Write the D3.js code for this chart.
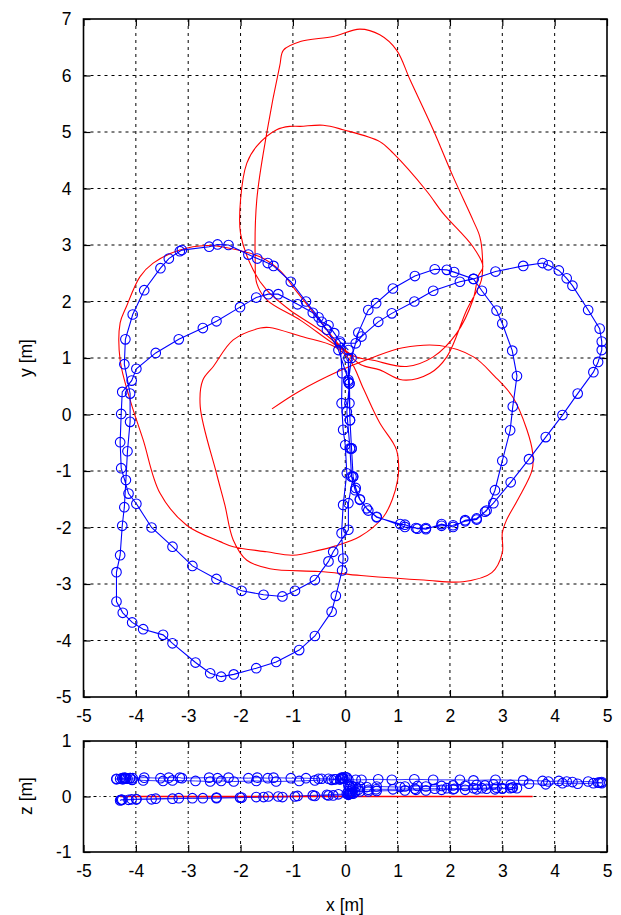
<!DOCTYPE html>
<html><head><meta charset="utf-8">
<script src="https://cdn.jsdelivr.net/npm/d3@7"></script>
<style>
html,body{margin:0;padding:0;background:#fff;}
svg{display:block;font-family:"Liberation Sans",Arial,sans-serif;}
</style></head>
<body>
<svg id="chart" width="621" height="915"></svg>
<script>
// ---------------- data ----------------
const xTicks = [-5,-4,-3,-2,-1,0,1,2,3,4,5];
const yTicks = [-5,-4,-3,-2,-1,0,1,2,3,4,5,6,7];
const zTicks = [-1,0,1];

// reference (ground truth) path, x-y in metres
const refPath = [
[-1.40,0.10],[-0.90,0.40],[-0.14,0.76],[0.50,1.00],[1.10,1.18],[1.80,1.22],[2.45,1.02],[2.85,0.68],[3.20,0.31],
[3.47,-0.27],[3.58,-0.68],[3.57,-0.98],[3.30,-1.50],[3.08,-1.87],[3.00,-2.10],[3.00,-2.45],[2.80,-2.80],[2.25,-2.96],
[1.50,-2.93],[0.30,-2.85],[-0.50,-2.78],[-1.44,-2.73],[-1.88,-2.58],[-2.14,-2.22],[-2.30,-1.60],[-2.46,-1.04],
[-2.77,0.14],[-2.72,0.61],[-2.52,0.85],[-2.14,1.32],[-1.62,1.53],[-1.45,1.54],[-0.83,1.38],[-0.20,1.20],[0.10,0.95],
[0.35,0.45],[0.66,-0.15],[0.90,-0.48],[0.98,-0.63],[1.02,-0.90],[1.00,-1.16],[0.90,-1.50],[0.73,-1.81],[0.28,-2.16],
[-0.20,-2.33],[-0.49,-2.40],[-1.00,-2.49],[-1.50,-2.43],[-2.14,-2.34],[-2.39,-2.25],[-3.03,-1.96],[-3.54,-1.39],
[-3.86,-0.45],[-4.11,0.26],[-4.30,0.96],[-4.30,1.62],[-4.18,1.91],[-3.92,2.44],[-3.67,2.68],[-3.16,2.91],[-2.65,2.99],
[-2.26,2.95],[-1.63,2.79],[-1.25,2.55],[-0.95,2.20],[-0.50,1.68],[-0.10,1.22],[0.20,1.02],[0.53,0.96],[1.17,0.85],
[1.68,1.02],[2.13,1.44],[2.44,2.03],[2.54,2.45],[2.63,2.62],[2.44,2.97],[1.87,3.56],[1.55,3.96],[0.92,4.62],[0.66,4.83],
[-0.04,5.04],[-0.42,5.12],[-0.86,5.10],[-1.06,5.10],[-1.31,5.04],[-1.69,4.75],[-1.88,4.45],[-2.00,3.80],[-2.00,3.20],
[-1.76,2.56],[-1.50,2.20],[-1.06,1.85],[-0.49,1.50],[0.00,1.12],[0.30,0.88],[0.66,0.79],[1.10,0.61],[1.62,0.73],
[1.94,1.02],[2.32,1.85],[2.60,2.38],[2.62,2.80],[2.57,3.15],[2.44,3.44],[2.06,4.21],[1.68,5.04],[1.24,5.92],[0.98,6.45],
[0.66,6.72],[0.28,6.82],[-0.23,6.69],[-0.86,6.60],[-1.18,6.45],[-1.25,6.18],[-1.50,4.98],[-1.69,3.80],[-1.72,2.72],
[-1.69,2.32],[-1.50,2.03],[-0.86,1.67],[-0.30,1.30],[0.15,1.02]
];

// estimated trajectory, [x, y, z] in metres, one loop per array
const loopA = [
[0.06,1.14,0.30],[-0.10,1.29,0.31],[-0.21,1.44,0.31],[-0.32,1.58,0.32],[-0.45,1.64,0.32],[-0.51,1.72,0.32],
[-0.75,2.00,0.33],[-1.04,2.35,0.33],[-1.37,2.63,0.34],[-1.48,2.68,0.33],[-1.68,2.76,0.34],[-1.85,2.83,0.33],
[-2.23,3.00,0.34],[-2.44,3.01,0.33],[-2.60,2.97,0.34],[-3.12,2.91,0.33],[-3.16,2.89,0.34],[-3.37,2.76,0.34],
[-3.53,2.59,0.33],[-3.84,2.20,0.34],[-4.06,1.77,0.33],[-4.20,1.33,0.33],[-4.22,0.89,0.34],[-4.11,0.37,0.33],
[-4.11,-0.13,0.33],[-4.16,-0.65,0.32],[-4.19,-1.16,0.33],[-4.22,-1.64,0.32],[-4.26,-1.97,0.33],[-4.30,-2.49,0.32],
[-4.37,-2.79,0.32],[-4.37,-3.31,0.31],[-4.25,-3.51,0.31],[-4.07,-3.68,0.30],[-3.86,-3.80,0.29],[-3.48,-3.90,0.28],
[-3.30,-4.05,0.29],[-2.86,-4.39,0.28],[-2.58,-4.58,0.27],[-2.37,-4.64,0.28],[-2.13,-4.60,0.27],[-1.70,-4.49,0.28],
[-1.32,-4.38,0.27],[-0.88,-4.17,0.28],[-0.58,-3.92,0.29],[-0.26,-3.49,0.30],[-0.18,-3.21,0.31],[-0.06,-2.76,0.32],
[-0.04,-2.55,0.33],[-0.07,-2.10,0.34],[-0.04,-1.60,0.33],[0.03,-1.04,0.34],[0.00,-0.54,0.35],[-0.04,-0.27,0.34],
[-0.07,0.20,0.33],[-0.06,0.73,0.32],[-0.10,1.26,0.31]
];
const loopD = [
[0.20,1.26,0.30],[0.31,1.38,0.30],[0.63,1.64,0.31],[0.89,1.79,0.30],[1.32,2.00,0.31],[1.68,2.19,0.30],
[2.19,2.35,0.30],[2.45,2.40,0.29],[2.87,2.53,0.30],[3.40,2.63,0.29],[3.77,2.68,0.28],[3.88,2.64,0.27],
[4.08,2.55,0.28],[4.23,2.41,0.27],[4.34,2.28,0.26],[4.64,1.85,0.27],[4.86,1.52,0.25],[4.90,1.29,0.26],
[4.90,1.14,0.24],[4.83,0.93,0.25],[4.74,0.75,0.24],[4.44,0.37,0.23],[4.15,-0.01,0.24],[3.83,-0.40,0.22],
[3.51,-0.79,0.23],[3.16,-1.20,0.21],[2.83,-1.57,0.22],[2.67,-1.72,0.20],[2.51,-1.86,0.21],[2.29,-1.89,0.19],
[2.06,-1.96,0.20],[1.84,-1.97,0.19],[1.54,-2.01,0.18],[1.38,-2.02,0.19],[1.14,-1.95,0.18],[1.05,-1.94,0.17],
[0.60,-1.82,0.18],[0.41,-1.66,0.17],[0.28,-1.50,0.18],[0.20,-1.30,0.17],[0.15,-1.10,0.18],[0.12,-0.60,0.19],
[0.09,-0.10,0.18],[0.08,0.55,0.18],[0.06,1.00,0.20]
];
const loopB = [
[0.06,0.61,0.04],[-0.13,1.14,0.04],[-0.35,1.50,0.03],[-0.62,1.80,0.02],[-0.91,1.95,0.01],[-1.28,2.13,0.00],
[-1.47,2.13,0.00],[-1.70,2.07,-0.01],[-2.01,1.90,-0.02],[-2.46,1.65,-0.02],[-2.72,1.53,-0.03],[-3.18,1.33,-0.03],
[-3.62,1.09,-0.04],[-3.99,0.81,-0.05],[-4.08,0.60,-0.05],[-4.26,0.40,-0.06],[-4.28,0.01,-0.06],[-4.30,-0.49,-0.07],
[-4.28,-0.95,-0.06],[-4.14,-1.40,-0.06],[-3.99,-1.58,-0.05],[-3.70,-2.00,-0.05],[-3.30,-2.34,-0.04],[-2.92,-2.68,-0.03],
[-2.46,-2.91,-0.03],[-1.98,-3.12,-0.02],[-1.56,-3.19,-0.01],[-1.20,-3.22,-0.01],[-0.96,-3.12,0.00],[-0.58,-2.93,0.01],
[-0.32,-2.60,0.02],[-0.23,-2.43,0.02],[0.06,-2.04,0.03],[0.06,-1.57,0.04],[0.15,-1.10,0.05],[0.12,-0.60,0.05],
[0.09,-0.10,0.06],[0.08,0.20,0.06]
];
const loopC = [
[0.06,0.58,0.10],[0.12,1.00,0.11],[0.25,1.45,0.12],[0.44,1.85,0.12],[0.59,1.97,0.13],[0.91,2.23,0.13],
[1.33,2.45,0.14],[1.71,2.57,0.14],[1.94,2.56,0.15],[2.08,2.52,0.14],[2.45,2.40,0.15],[2.61,2.19,0.15],
[2.89,1.84,0.16],[3.00,1.61,0.15],[3.19,1.13,0.16],[3.28,0.68,0.15],[3.20,0.14,0.16],[3.15,-0.28,0.15],
[3.00,-0.82,0.14],[2.86,-1.34,0.13],[2.70,-1.70,0.14],[2.51,-1.84,0.13],[2.29,-1.87,0.12],[2.06,-1.99,0.13],
[1.84,-1.94,0.12],[1.54,-2.03,0.11],[1.35,-2.01,0.12],[1.14,-1.99,0.11],[0.60,-1.81,0.10],[0.44,-1.70,0.09],
[0.28,-1.51,0.09],[0.19,-1.34,0.08],[0.12,-1.10,0.07],[0.09,-0.60,0.06],[0.03,0.05,0.05],[0.08,0.55,0.05]
];
const refZ = 0;

// ---------------- drawing ----------------
const svg = d3.select("#chart");
const L = 83.5, R = 607;
const x = d3.scaleLinear().domain([-5,5]).range([L,R]);
const y = d3.scaleLinear().domain([-5,7]).range([697,19]);
const z = d3.scaleLinear().domain([-1,1]).range([852,741]);
const fmt = d => String(d);
const FS = "17.5px";
const est = loopA.concat(loopD, loopB, loopC);

function panel(ys, yTickVals, top, bottom, dash) {
  const g = svg.append("g");
  g.append("g").selectAll("line").data(xTicks.slice(1,-1)).join("line")
    .attr("x1", d=>x(d)).attr("x2", d=>x(d)).attr("y1", top).attr("y2", bottom)
    .attr("stroke","#000").attr("stroke-width",1).attr("stroke-dasharray",dash);
  g.append("g").selectAll("line").data(yTickVals.slice(1,-1)).join("line")
    .attr("x1", L).attr("x2", R).attr("y1", d=>ys(d)).attr("y2", d=>ys(d))
    .attr("stroke","#000").attr("stroke-width",1).attr("stroke-dasharray",dash);
  const ax = [
    g.append("g").attr("transform",`translate(0,${bottom})`)
      .call(d3.axisBottom(x).tickValues(xTicks).tickSize(-7).tickSizeOuter(0).tickPadding(13).tickFormat(fmt)),
    g.append("g").attr("transform",`translate(0,${top})`)
      .call(d3.axisTop(x).tickValues(xTicks).tickSize(-7).tickSizeOuter(0).tickFormat("")),
    g.append("g").attr("transform",`translate(${L},0)`)
      .call(d3.axisLeft(ys).tickValues(yTickVals).tickSize(-7).tickSizeOuter(0).tickPadding(12).tickFormat(fmt)),
    g.append("g").attr("transform",`translate(${R},0)`)
      .call(d3.axisRight(ys).tickValues(yTickVals).tickSize(-7).tickSizeOuter(0).tickFormat(""))
  ];
  ax.forEach(a => {
    a.select(".domain").remove();
    a.selectAll("line").attr("stroke","#000").attr("stroke-width",1.2);
    a.selectAll("text").attr("font-size",FS).attr("fill","#000")
      .attr("font-family","'Liberation Sans',Arial,sans-serif");
  });
  return g;
}

panel(y, yTicks, 19, 697, "3,4");
panel(z, zTicks, 741, 852, "3,3,1,3");

const defs = svg.append("defs");
defs.append("clipPath").attr("id","c1").append("rect").attr("x",L).attr("y",19).attr("width",R-L).attr("height",697-19);
defs.append("clipPath").attr("id","c2").append("rect").attr("x",L).attr("y",741).attr("width",R-L).attr("height",852-741);

// top panel: x-y
const gTop = svg.append("g").attr("clip-path","url(#c1)");
gTop.append("path").datum(refPath)
  .attr("d", d3.line().curve(d3.curveCatmullRom.alpha(0.5)).x(d=>x(d[0])).y(d=>y(d[1])))
  .attr("fill","none").attr("stroke","#ff0000").attr("stroke-width",1.1);
gTop.append("path").datum(est)
  .attr("d", d3.line().x(d=>x(d[0])).y(d=>y(d[1])))
  .attr("fill","none").attr("stroke","#0000ff").attr("stroke-width",1.1);
gTop.append("g").selectAll("circle").data(est).join("circle")
  .attr("cx", d=>x(d[0])).attr("cy", d=>y(d[1])).attr("r",4.8)
  .attr("fill","none").attr("stroke","#0000ff").attr("stroke-width",1.1);

// bottom panel: x-z
const gBot = svg.append("g").attr("clip-path","url(#c2)");
gBot.append("path").datum(est)
  .attr("d", d3.line().x(d=>x(d[0])).y(d=>z(d[2])))
  .attr("fill","none").attr("stroke","#0000ff").attr("stroke-width",1).attr("stroke-opacity",0.8);
gBot.append("path").datum(refPath)
  .attr("d", d3.line().x(d=>x(d[0])).y(()=>z(refZ)))
  .attr("fill","none").attr("stroke","#ff0000").attr("stroke-width",1.5);
gBot.append("g").selectAll("circle").data(est).join("circle")
  .attr("cx", d=>x(d[0])).attr("cy", d=>z(d[2])).attr("r",4.8)
  .attr("fill","none").attr("stroke","#0000ff").attr("stroke-width",1.1);

[[19,697],[741,852]].forEach(([t,b]) => {
  svg.append("rect").attr("x",L).attr("y",t).attr("width",R-L).attr("height",b-t)
    .attr("fill","none").attr("stroke","#000").attr("stroke-width",1.6);
});

svg.append("text").attr("transform","translate(32,358) rotate(-90)")
  .attr("text-anchor","middle").attr("font-size",FS).text("y [m]");
svg.append("text").attr("transform","translate(32,796) rotate(-90)")
  .attr("text-anchor","middle").attr("font-size",FS).text("z [m]");
svg.append("text").attr("x",345).attr("y",911)
  .attr("text-anchor","middle").attr("font-size",FS).text("x [m]");
</script>
</body></html>
